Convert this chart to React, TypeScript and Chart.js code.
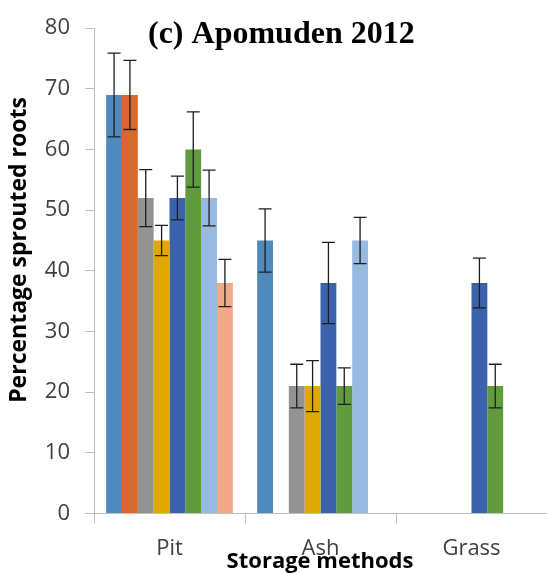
import React, { useEffect, useRef } from "react";
import { Chart, registerables } from "chart.js";

Chart.register(...registerables);

const categories = ["Pit", "Ash", "Grass"];
const yTicks = [0, 10, 20, 30, 40, 50, 60, 70, 80];

const seriesNames = ["T1", "T2", "T3", "T4", "T5", "T6", "T7", "T8"];
const seriesColors = [
  "#4F89BE",
  "#D46B2B",
  "#939393",
  "#E0A800",
  "#3B63AC",
  "#629A3E",
  "#98B9E0",
  "#F2A98A",
];

const s1 = [69, 45, null];
const s2 = [69, null, null];
const s3 = [52, 21, null];
const s4 = [45, 21, null];
const s5 = [52, 38, 38];
const s6 = [60, 21, 21];
const s7 = [52, 45, null];
const s8 = [38, null, null];

const e1 = [6.9, 5.2, null];
const e2 = [5.7, null, null];
const e3 = [4.7, 3.6, null];
const e4 = [2.5, 4.2, null];
const e5 = [3.6, 6.7, 4.1];
const e6 = [6.2, 3.0, 3.6];
const e7 = [4.6, 3.8, null];
const e8 = [3.9, null, null];

const seriesValues = [s1, s2, s3, s4, s5, s6, s7, s8];
const seriesErrors = [e1, e2, e3, e4, e5, e6, e7, e8];

const titleText = "(c) Apomuden 2012";
const yTitleText = "Percentage sprouted roots";
const xTitleText = "Storage methods";

const errorBarPlugin = {
  id: "errorBars",
  afterDatasetsDraw(chart: any) {
    const ctx = chart.ctx;
    const yScale = chart.scales.y;
    ctx.save();
    ctx.strokeStyle = "#1E1E1E";
    ctx.lineWidth = 1.3;
    chart.data.datasets.forEach((ds: any, di: number) => {
      const meta = chart.getDatasetMeta(di);
      const errs = seriesErrors[di];
      meta.data.forEach((el: any, i: number) => {
        const v = ds.data[i];
        const e = errs[i];
        if (v == null || e == null) return;
        const x = el.x;
        const yTop = yScale.getPixelForValue(v + e);
        const yBot = yScale.getPixelForValue(v - e);
        const hw = 6.5;
        ctx.beginPath();
        ctx.moveTo(x, yTop);
        ctx.lineTo(x, yBot);
        ctx.moveTo(x - hw, yTop);
        ctx.lineTo(x + hw, yTop);
        ctx.moveTo(x - hw, yBot);
        ctx.lineTo(x + hw, yBot);
        ctx.stroke();
      });
    });
    ctx.restore();
  },
};

const textPlugin = {
  id: "texts",
  afterDraw(chart: any) {
    const ctx = chart.ctx;
    ctx.save();
    ctx.fillStyle = "#000000";
    ctx.font = "bold 32px 'Liberation Serif'";
    ctx.textAlign = "left";
    ctx.textBaseline = "alphabetic";
    ctx.fillText(titleText, 148, 43);

    ctx.font = "bold 22px 'Open Sans'";
    ctx.textAlign = "center";
    ctx.fillText(xTitleText, 320, 568);

    ctx.translate(26, 250);
    ctx.rotate(-Math.PI / 2);
    ctx.font = "bold 23px 'Open Sans'";
    ctx.textAlign = "center";
    ctx.textBaseline = "alphabetic";
    ctx.fillText(yTitleText, 0, 0);
    ctx.restore();
  },
};

export default function App() {
  const canvasRef = useRef<HTMLCanvasElement | null>(null);

  useEffect(() => {
    if (!canvasRef.current) return;
    const chart = new Chart(canvasRef.current, {
      type: "bar",
      data: {
        labels: categories,
        datasets: seriesValues.map((vals, i) => ({
          label: seriesNames[i],
          data: vals,
          backgroundColor: seriesColors[i],
          borderWidth: 0,
          categoryPercentage: 0.839,
          barPercentage: 1.0,
        })),
      },
      options: {
        animation: false,
        responsive: true,
        maintainAspectRatio: false,
        layout: { padding: { top: 19, right: 0, bottom: 0, left: 0 } },
        plugins: {
          legend: { display: false },
          tooltip: { enabled: false },
          title: { display: false },
        },
        scales: {
          x: {
            offset: true,
            grid: {
              offset: true,
              drawOnChartArea: false,
              drawTicks: true,
              tickLength: 10,
              color: "#BFBFBF",
            },
            border: { display: true, color: "#BFBFBF", width: 1 },
            ticks: {
              color: "#404040",
              font: { family: "'Open Sans'", size: 22 },
              padding: 12,
              maxRotation: 0,
            },
            afterFit: (s: any) => {
              s.height = 59.5;
            },
          },
          y: {
            min: 0,
            max: 80,
            afterBuildTicks: (s: any) => {
              s.ticks = yTicks.map((v) => ({ value: v }));
            },
            grid: {
              drawOnChartArea: false,
              drawTicks: true,
              tickLength: 9,
              color: "#BFBFBF",
            },
            border: { display: true, color: "#BFBFBF", width: 1 },
            ticks: {
              color: "#404040",
              font: { family: "'Open Sans'", size: 22 },
              padding: 15,
            },
            afterFit: (s: any) => {
              s.width = 94;
            },
          },
        },
      },
      plugins: [errorBarPlugin, textPlugin],
    });
    return () => chart.destroy();
  }, []);

  return (
    <div
      style={{
        position: "fixed",
        left: 0,
        top: 0,
        width: 547,
        height: 573,
        background: "#ffffff",
      }}
    >
      <canvas ref={canvasRef} />
    </div>
  );
}
